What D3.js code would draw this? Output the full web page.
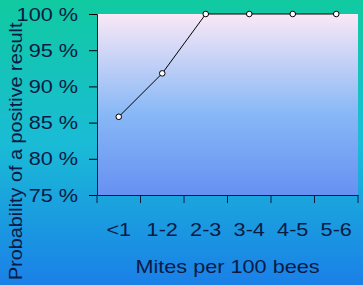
<!DOCTYPE html>
<html>
<head>
<meta charset="utf-8">
<script src="https://cdn.jsdelivr.net/npm/d3@7"></script>
<style>
  body { margin: 0; overflow: hidden; }
  svg text { font-family: "Liberation Sans", Arial, sans-serif; fill: #0a1a45; }
</style>
</head>
<body>
<div id="chart"></div>
<script>
var categories = ["<1", "1-2", "2-3", "3-4", "4-5", "5-6"];
var probability = [85.8, 91.8, 100, 100, 100, 100];
var yTicks = [75, 80, 85, 90, 95, 100];

var width = 363,
    height = 285;

var margin = {top: 14, right: 5, bottom: 90, left: 97};

var svg = d3.select("#chart").append("svg")
    .attr("width", width)
    .attr("height", height);

var defs = svg.append("defs");

var bg = defs.append("linearGradient")
    .attr("id", "bg")
    .attr("x1", 0).attr("y1", 0).attr("x2", 0).attr("y2", 1);
bg.append("stop").attr("offset", "0%").attr("stop-color", "#10caa0");
bg.append("stop").attr("offset", "50%").attr("stop-color", "#1abcd6");
bg.append("stop").attr("offset", "100%").attr("stop-color", "#1a80e8");

var plotBg = defs.append("linearGradient")
    .attr("id", "plotbg")
    .attr("x1", 0).attr("y1", 0).attr("x2", 0).attr("y2", 1);
plotBg.append("stop").attr("offset", "0%").attr("stop-color", "#fae8f6");
plotBg.append("stop").attr("offset", "55%").attr("stop-color", "#88b8f6");
plotBg.append("stop").attr("offset", "100%").attr("stop-color", "#6690f2");

svg.append("rect")
    .attr("width", width)
    .attr("height", height)
    .attr("fill", "url(#bg)");

var x = d3.scaleBand()
    .domain(categories)
    .range([margin.left, width - margin.right]);

var y = d3.scaleLinear()
    .domain([75, 100])
    .range([height - margin.bottom, margin.top]);

svg.append("rect")
    .attr("x", margin.left)
    .attr("y", margin.top)
    .attr("width", width - margin.left - margin.right)
    .attr("height", height - margin.top - margin.bottom)
    .attr("fill", "url(#plotbg)");

// the original text is a bit wider than the font, stretch it
function widen(stretch) {
  return function(sel) {
    sel.each(function() {
      var w = this.getComputedTextLength();
      d3.select(this)
        .attr("textLength", w * stretch)
        .attr("lengthAdjust", "spacingAndGlyphs");
    });
  };
}

// y axis
var yAxis = svg.append("g")
    .attr("transform", "translate(" + margin.left + ",0)")
    .call(d3.axisLeft(y).tickValues(yTicks).tickSize(8).tickPadding(11)
      .tickFormat(function(d) { return d + " %"; }));
yAxis.selectAll("text").style("font-size", "19px").call(widen(1.14));

// x axis with ticks between categories
var xAxis = svg.append("g")
    .attr("transform", "translate(0," + (height - margin.bottom) + ")")
    .call(d3.axisBottom(x).tickSize(0).tickPadding(28));
xAxis.selectAll("text").style("font-size", "19px").attr("dy", "0.71em").call(widen(1.14));
xAxis.selectAll(".tick").append("line")
    .attr("x1", -x.bandwidth() / 2).attr("x2", -x.bandwidth() / 2)
    .attr("y2", 8).attr("stroke", "#0a1a45");
xAxis.append("line")
    .attr("x1", width - margin.right).attr("x2", width - margin.right)
    .attr("y2", 8).attr("stroke", "#0a1a45");

svg.selectAll(".domain").attr("stroke", "#0a1a45");

var line = d3.line()
    .x(function(d, i) { return x(categories[i]) + x.bandwidth() / 2; })
    .y(function(d) { return y(d); });

svg.append("path")
    .datum(probability)
    .attr("fill", "none")
    .attr("stroke", "#000")
    .attr("stroke-width", 1)
    .attr("d", line);

svg.selectAll(".pt")
    .data(probability)
    .enter().append("circle")
    .attr("class", "pt")
    .attr("cx", function(d, i) { return x(categories[i]) + x.bandwidth() / 2; })
    .attr("cy", function(d) { return y(d); })
    .attr("r", 2.8)
    .attr("fill", "#fff")
    .attr("stroke", "#000")
    .attr("stroke-width", 1);

svg.append("text")
    .attr("x", (margin.left + width - margin.right) / 2)
    .attr("y", 273)
    .attr("text-anchor", "middle")
    .style("font-size", "19px")
    .text("Mites per 100 bees")
    .call(widen(1.14));

svg.append("text")
    .attr("transform", "translate(22,280) rotate(-90)")
    .attr("text-anchor", "start")
    .style("font-size", "18.5px")
    .text("Probability of a positive result")
    .call(widen(1.07));
</script>
</body>
</html>
